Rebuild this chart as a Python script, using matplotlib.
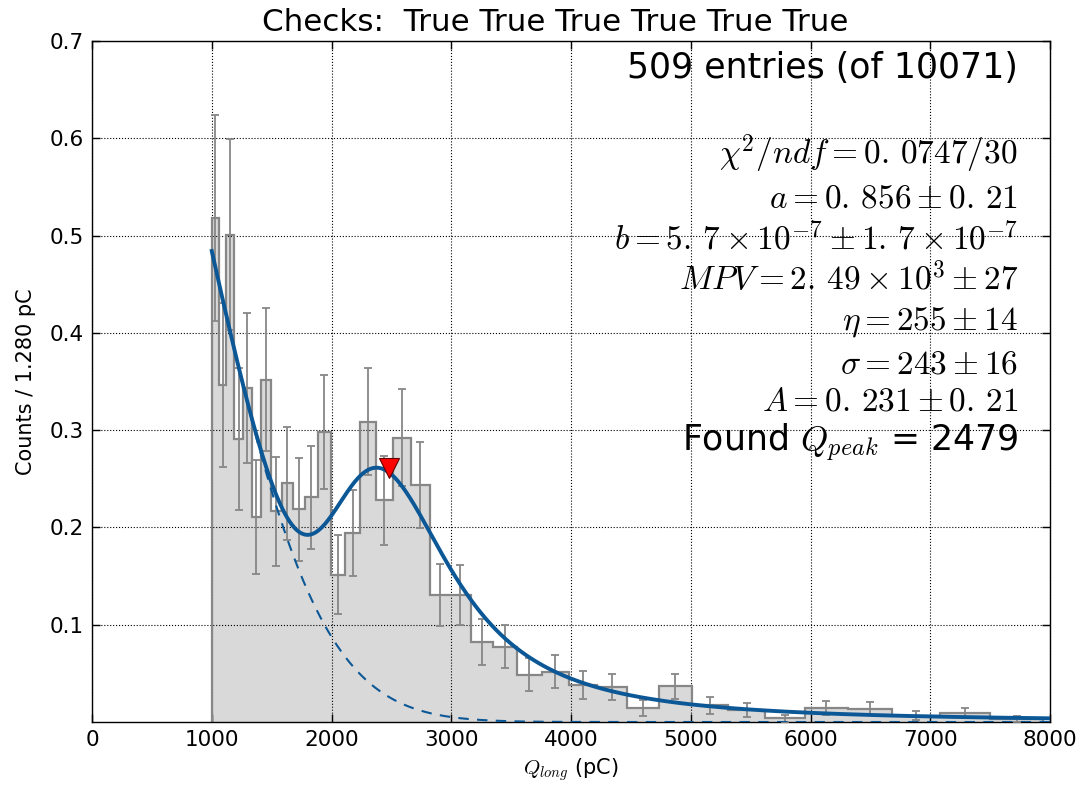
import numpy as np
import matplotlib
matplotlib.use("Agg")
import matplotlib.pyplot as plt

# ---------------- data ----------------
title = "Checks:  True True True True True True"
# log-spaced bin edges (pC)
bin_edges = [1000.0, 1059.25, 1122.02, 1188.50, 1258.93, 1333.52, 1412.54, 1496.24,
             1584.89, 1678.80, 1778.28, 1883.65, 1995.26, 2113.49, 2238.72, 2371.37,
             2511.89, 2660.73, 2818.38, 2985.38, 3162.28, 3349.65, 3548.13, 3758.37,
             3981.07, 4216.97, 4466.84, 4731.51, 5011.87, 5308.84, 5623.41, 5956.62,
             6309.57, 6683.44, 7079.46, 7498.94, 7943.28]
# entries per bin
bin_counts = [24, 17, 26, 16, 20, 13, 23, 15, 18, 17, 19, 26,
              14, 19, 32, 25, 34, 30, 17, 18, 12, 12, 8, 9,
              7, 7, 3, 8, 4, 3, 1, 4, 4, 2, 3, 1]
unit_pc = 1.280          # "Counts / 1.280 pC"

# fit parameters printed on the chart
fit_a = 0.856
fit_b = 5.7e-7
fit_mpv = 2.49e3
fit_eta = 255.0
fit_sigma = 243.0
fit_A = 0.231
q_peak = 2479

entries_text = "509 entries (of 10071)"
fit_lines = [r"$\chi^2/ndf = 0.\,0747/30$",
             r"$a = 0.\,856 \pm 0.\,21$",
             r"$b = 5.\,7\times10^{-7} \pm 1.\,7\times10^{-7}$",
             r"$MPV = 2.\,49\times10^{3} \pm 27$",
             r"$\eta = 255 \pm 14$",
             r"$\sigma = 243 \pm 16$",
             r"$A = 0.\,231 \pm 0.\,21$"]
found_text = r"Found $Q_{peak}$ = 2479"
xticks = [0, 1000, 2000, 3000, 4000, 5000, 6000, 7000, 8000]
yticks = [0.1, 0.2, 0.3, 0.4, 0.5, 0.6, 0.7]

# ---------------- derived quantities ----------------
edges = np.array(bin_edges)
counts = np.array(bin_counts, dtype=float)
widths = np.diff(edges)
values = counts * unit_pc / widths
errors = np.sqrt(counts) * unit_pc / widths
centers = 0.5 * (edges[:-1] + edges[1:])


def landau_std(lam):
    """Standard Landau density (numerical integral)."""
    out = np.zeros_like(lam)
    t = np.linspace(0.0, 50.0, 50001)[1:]
    lt = -t * np.log(t)
    st = np.sin(np.pi * t)
    ok = np.where(lam >= -3.0)[0]
    for i in range(0, len(ok), 64):
        idx = ok[i:i + 64]
        integ = np.exp(lt[None, :] - lam[idx, None] * t[None, :]) * st[None, :]
        integ = np.concatenate([np.zeros((len(idx), 1)), integ], axis=1)
        out[idx] = np.trapezoid(integ, dx=t[1] - t[0], axis=1) / np.pi
    return out


# Landau (x) Gauss signal + Gaussian-shaped background
dx = 5.0
xg = np.arange(-2000.0, 11000.0 + dx, dx)
mpc = fit_mpv - 0.22278298 * fit_eta
land = landau_std((xg - mpc) / fit_eta) / fit_eta
kx = np.arange(-6 * fit_sigma, 6 * fit_sigma + dx, dx)
kern = np.exp(-0.5 * (kx / fit_sigma) ** 2)
kern /= kern.sum()
conv = np.convolve(land, kern, mode="same")
sig = fit_A * conv / conv.max()

xf = np.linspace(1000, 8000, 1400)
bkg = fit_a * np.exp(-fit_b * xf ** 2)
total = bkg + np.interp(xf, xg, sig)
peak_y = total[(xf > 2000) & (xf < 3000)].max()

# ---------------- drawing ----------------
plt.rcParams["mathtext.fontset"] = "cm"
plt.rcParams["font.family"] = "DejaVu Sans"

fig = plt.figure(figsize=(10.82, 7.87), dpi=100)
ax = fig.add_axes([92 / 1082, 65 / 787, 958 / 1082, 681 / 787])

blue = "#0c5896"
ax.stairs(values, edges, fill=True, color="#d9d9d9", zorder=1)
ax.stairs(values, edges, color="#878787", lw=1.6, baseline=0, zorder=2)
ax.errorbar(centers, values, yerr=errors, fmt="none", ecolor="#878787",
            elinewidth=1.3, capsize=3, capthick=1.3, zorder=3)
ax.plot(xf, bkg, ls="--", color=blue, lw=1.5, dashes=(5, 4), zorder=4)
ax.plot(xf, total, color=blue, lw=2.8, zorder=5)
ax.plot([q_peak], [peak_y], marker="v", color="red", markeredgecolor="#600000",
        markersize=14, markeredgewidth=0.8, zorder=6, ls="none")

ax.set_xlim(0, 8000)
ax.set_ylim(0, 0.7)
ax.set_xticks(xticks)
ax.set_yticks(yticks)
ax.tick_params(direction="in", top=True, right=True, labelsize=15.5, length=6,
               width=1, pad=6)
for s in ax.spines.values():
    s.set_linewidth(1.0)
ax.grid(True, color="black", ls=":", lw=0.8)
for gl in ax.get_xgridlines() + ax.get_ygridlines():
    gl.set_zorder(0.5)

ax.set_title(title, fontsize=22.3, pad=7, x=0.484)
ax.set_xlabel(r"$Q_{long}$ (pC)", fontsize=15, labelpad=4)
ax.set_ylabel("Counts / 1.280 pC", fontsize=15, labelpad=10)

xr = 0.9666
ax.text(xr, 0.946, entries_text, transform=ax.transAxes, ha="right",
        va="baseline", fontsize=25)
ys = [0.8194, 0.7553, 0.6942, 0.6335, 0.5768, 0.5122, 0.4568]
for s, y in zip(fit_lines, ys):
    ax.text(xr, y, s, transform=ax.transAxes, ha="right", va="baseline",
            fontsize=24)
ax.text(xr, 0.3971, found_text, transform=ax.transAxes, ha="right",
        va="baseline", fontsize=25)

fig.savefig("out.png", dpi=100)
